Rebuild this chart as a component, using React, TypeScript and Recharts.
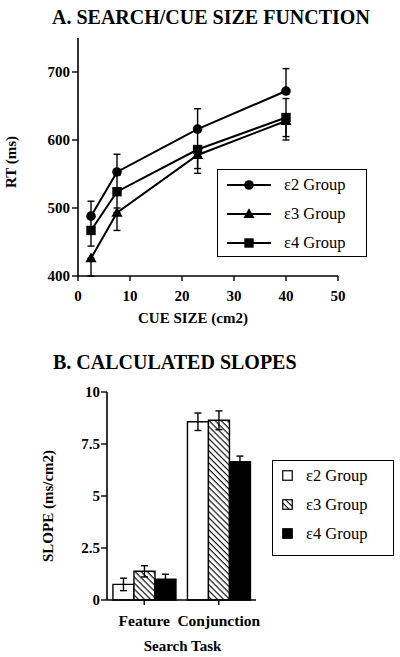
import React from "react";
import {
  LineChart,
  Line,
  BarChart,
  Bar,
  XAxis,
  YAxis,
  ErrorBar,
  Legend,
  Label,
} from "recharts";

// Panel A: reaction time by cue size
const cueSizes = [2.5, 7.5, 23, 40];
const rtE2 = [488, 553, 616, 672];
const rtE3 = [426, 493, 578, 628];
const rtE4 = [467, 524, 586, 633];
// e2 bars drawn upward, e3 downward, e4 both ways
const rtErrE2 = [22, 26, 30, 33];
const rtErrE3 = [26, 26, 27, 28];
const rtErrE4 = [23, 24, 28, 28];
const rtTicks = [400, 500, 600, 700];
const cueTicks = [0, 10, 20, 30, 40, 50];

// Panel B: calculated slopes
const tasks = ["Feature", "Conjunction"];
const slopeE2 = [0.75, 8.57];
const slopeE3 = [1.38, 8.64];
const slopeE4 = [1.0, 6.65];
const slopeErrE2 = [0.3, 0.42];
const slopeErrE3 = [0.27, 0.45];
const slopeErrE4 = [0.24, 0.27];
const slopeTicks = [0, 2.5, 5, 7.5, 10];

const groups = ["ε2 Group", "ε3 Group", "ε4 Group"];

const FONT = "'Liberation Serif', 'Times New Roman', serif";
const tickStyle = { fontSize: 15, fontWeight: 700, fill: "#000", fontFamily: FONT };
const axisLabelStyle = { fontSize: 15, fontWeight: 700, fill: "#000", fontFamily: FONT };
const legendText = { marginLeft: 13, fontSize: 16.5, color: "#000", fontFamily: FONT };

const rtData = cueSizes.map((size, i) => ({
  size,
  e2: rtE2[i],
  e3: rtE3[i],
  e4: rtE4[i],
  e2Err: [0, rtErrE2[i]],
  e3Err: [rtErrE3[i], 0],
  e4Err: rtErrE4[i],
}));

const slopeData = tasks.map((task, i) => ({
  task,
  e2: slopeE2[i],
  e3: slopeE3[i],
  e4: slopeE4[i],
  e2Err: slopeErrE2[i],
  e3Err: slopeErrE3[i],
  e4Err: slopeErrE4[i],
}));

// marker shapes: circle, triangle, square
const marker = (i: number, cx: number, cy: number, key?: string) => {
  if (i === 0) return <circle key={key} cx={cx} cy={cy} r={4.8} fill="#000" />;
  if (i === 1)
    return (
      <polygon
        key={key}
        points={`${cx},${cy - 5.8} ${cx + 5.6},${cy + 4} ${cx - 5.6},${cy + 4}`}
        fill="#000"
      />
    );
  return <rect key={key} x={cx - 4.7} y={cy - 4.7} width={9.4} height={9.4} fill="#000" />;
};

const dotFor = (i: number) => (p: any) => marker(i, p.cx, p.cy, `m${i}-${p.index}`);

const RtLegend = () => (
  <div style={{ paddingLeft: 9 }}>
    {groups.map((g, i) => (
      <div key={g} style={{ display: "flex", alignItems: "center", height: 29 }}>
        <svg width={44} height={12}>
          <line x1={0} y1={6} x2={44} y2={6} stroke="#000" strokeWidth={2} />
          {marker(i, 22, 6)}
        </svg>
        <span style={legendText}>{g}</span>
      </div>
    ))}
  </div>
);

const slopeFills = ["#fff", "url(#hatchLegend)", "#000"];

const SlopeLegend = () => (
  <div style={{ paddingLeft: 9 }}>
    {groups.map((g, i) => (
      <div key={g} style={{ display: "flex", alignItems: "center", height: 29 }}>
        <svg width={11} height={11}>
          <defs>
            <pattern
              id="hatchLegend"
              patternUnits="userSpaceOnUse"
              width={4.3}
              height={4.3}
              patternTransform="rotate(-45)"
            >
              <rect width={4.3} height={4.3} fill="#fff" />
              <line x1={2} y1={0} x2={2} y2={4.3} stroke="#000" strokeWidth={1.1} />
            </pattern>
          </defs>
          <rect x={0.75} y={0.75} width={9.5} height={9.5} fill={slopeFills[i]} stroke="#000" strokeWidth={1.2} />
        </svg>
        <span style={legendText}>{g}</span>
      </div>
    ))}
  </div>
);

const vLabel = (text: string, x: number, shift: number) => (props: any) => {
  const vb = props.viewBox;
  const y = vb.y + vb.height / 2 + shift;
  return (
    <text
      x={x}
      y={y}
      transform={`rotate(-90 ${x} ${y})`}
      textAnchor="middle"
      dominantBaseline="central"
      style={axisLabelStyle}
    >
      {text}
    </text>
  );
};

const hLabel = (text: string, shiftX: number, baseline: number) => (props: any) => {
  const vb = props.viewBox;
  return (
    <text x={vb.x + vb.width / 2 + shiftX} y={baseline} textAnchor="middle" style={axisLabelStyle}>
      {text}
    </text>
  );
};

const titleStyle: React.CSSProperties = {
  position: "absolute",
  fontSize: 20,
  fontWeight: 700,
  lineHeight: "20px",
  whiteSpace: "nowrap",
  color: "#000",
  fontFamily: FONT,
};

export default function App() {
  return (
    <div
      style={{
        position: "absolute",
        left: 0,
        top: 0,
        width: 400,
        height: 657,
        background: "#fff",
        fontFamily: FONT,
        overflow: "hidden",
      }}
    >
      <div style={{ ...titleStyle, left: 52, top: 6.5 }}>A. SEARCH/CUE SIZE FUNCTION</div>
      <div style={{ position: "absolute", left: 0, top: 0 }}>
        <LineChart
          width={400}
          height={330}
          data={rtData}
          margin={{ top: 38, right: 62, bottom: 24, left: 0 }}
          style={{ fontFamily: FONT }}
        >
          <XAxis
            type="number"
            dataKey="size"
            domain={[0, 50]}
            ticks={cueTicks}
            interval={0}
            height={30}
            tick={tickStyle}
            tickSize={5}
            tickMargin={9}
            axisLine={{ stroke: "#000", strokeWidth: 1.6 }}
            tickLine={{ stroke: "#000", strokeWidth: 1.4 }}
          >
            <Label content={hLabel("CUE SIZE (cm2)", -15, 323)} />
          </XAxis>
          <YAxis
            type="number"
            domain={[400, 750]}
            ticks={rtTicks}
            interval={0}
            width={78}
            tick={tickStyle}
            tickSize={6}
            tickMargin={2}
            axisLine={{ stroke: "#000", strokeWidth: 1.6 }}
            tickLine={{ stroke: "#000", strokeWidth: 1.4 }}
          >
            <Label content={vLabel("RT (ms)", 11, 5)} />
          </YAxis>
          <Line
            dataKey="e2"
            stroke="#000"
            strokeWidth={2}
            dot={dotFor(0)}
            activeDot={false}
            isAnimationActive={false}
          >
            <ErrorBar dataKey="e2Err" width={3.5} stroke="#000" strokeWidth={1.4} />
          </Line>
          <Line
            dataKey="e3"
            stroke="#000"
            strokeWidth={2}
            dot={dotFor(1)}
            activeDot={false}
            isAnimationActive={false}
          >
            <ErrorBar dataKey="e3Err" width={3.5} stroke="#000" strokeWidth={1.4} />
          </Line>
          <Line
            dataKey="e4"
            stroke="#000"
            strokeWidth={2}
            dot={dotFor(2)}
            activeDot={false}
            isAnimationActive={false}
          >
            <ErrorBar dataKey="e4Err" width={3.5} stroke="#000" strokeWidth={1.4} />
          </Line>
          <Legend
            layout="vertical"
            align="center"
            verticalAlign="middle"
            content={<RtLegend />}
            wrapperStyle={{
              left: 217,
              top: 169,
              width: 150,
              height: 88,
              border: "1.5px solid #000",
              boxSizing: "border-box",
              background: "#fff",
            }}
          />
        </LineChart>
      </div>

      <div style={{ ...titleStyle, left: 53, top: 351.5 }}>B. CALCULATED SLOPES</div>
      <div style={{ position: "absolute", left: 0, top: 330 }}>
        <BarChart
          width={400}
          height={327}
          data={slopeData}
          margin={{ top: 62, right: 144, bottom: 27, left: 0 }}
          barCategoryGap="8%"
          barGap={0}
          style={{ fontFamily: FONT }}
        >
          <defs>
            <pattern
              id="hatch"
              patternUnits="userSpaceOnUse"
              width={4.3}
              height={4.3}
              patternTransform="rotate(-45)"
            >
              <rect width={4.3} height={4.3} fill="#fff" />
              <line x1={2} y1={0} x2={2} y2={4.3} stroke="#000" strokeWidth={1.1} />
            </pattern>
          </defs>
          <XAxis
            dataKey="task"
            height={30}
            interval={0}
            tick={{ ...tickStyle, fontSize: 15.5 }}
            tickSize={5}
            tickMargin={10}
            axisLine={{ stroke: "#000", strokeWidth: 1.6 }}
            tickLine={{ stroke: "#000", strokeWidth: 1.4 }}
          >
            <Label content={hLabel("Search Task", 1, 320.5)} />
          </XAxis>
          <YAxis
            type="number"
            domain={[0, 10]}
            ticks={slopeTicks}
            interval={0}
            width={107}
            tick={tickStyle}
            tickSize={6}
            tickMargin={1}
            axisLine={{ stroke: "#000", strokeWidth: 1.6 }}
            tickLine={{ stroke: "#000", strokeWidth: 1.4 }}
          >
            <Label content={vLabel("SLOPE (ms/cm2)", 47.5, 10)} />
          </YAxis>
          <Bar dataKey="e2" fill="#fff" stroke="#000" strokeWidth={1.4} isAnimationActive={false}>
            <ErrorBar dataKey="e2Err" width={3.5} stroke="#000" strokeWidth={1.4} />
          </Bar>
          <Bar dataKey="e3" fill="url(#hatch)" stroke="#000" strokeWidth={1.4} isAnimationActive={false}>
            <ErrorBar dataKey="e3Err" width={3.5} stroke="#000" strokeWidth={1.4} />
          </Bar>
          <Bar dataKey="e4" fill="#000" stroke="#000" strokeWidth={1.4} isAnimationActive={false}>
            <ErrorBar dataKey="e4Err" width={3.5} stroke="#000" strokeWidth={1.4} />
          </Bar>
          <Legend
            layout="vertical"
            align="center"
            verticalAlign="middle"
            content={<SlopeLegend />}
            wrapperStyle={{
              left: 272,
              top: 130,
              width: 122,
              height: 96,
              border: "1.5px solid #000",
              boxSizing: "border-box",
              background: "#fff",
            }}
          />
        </BarChart>
      </div>
    </div>
  );
}
